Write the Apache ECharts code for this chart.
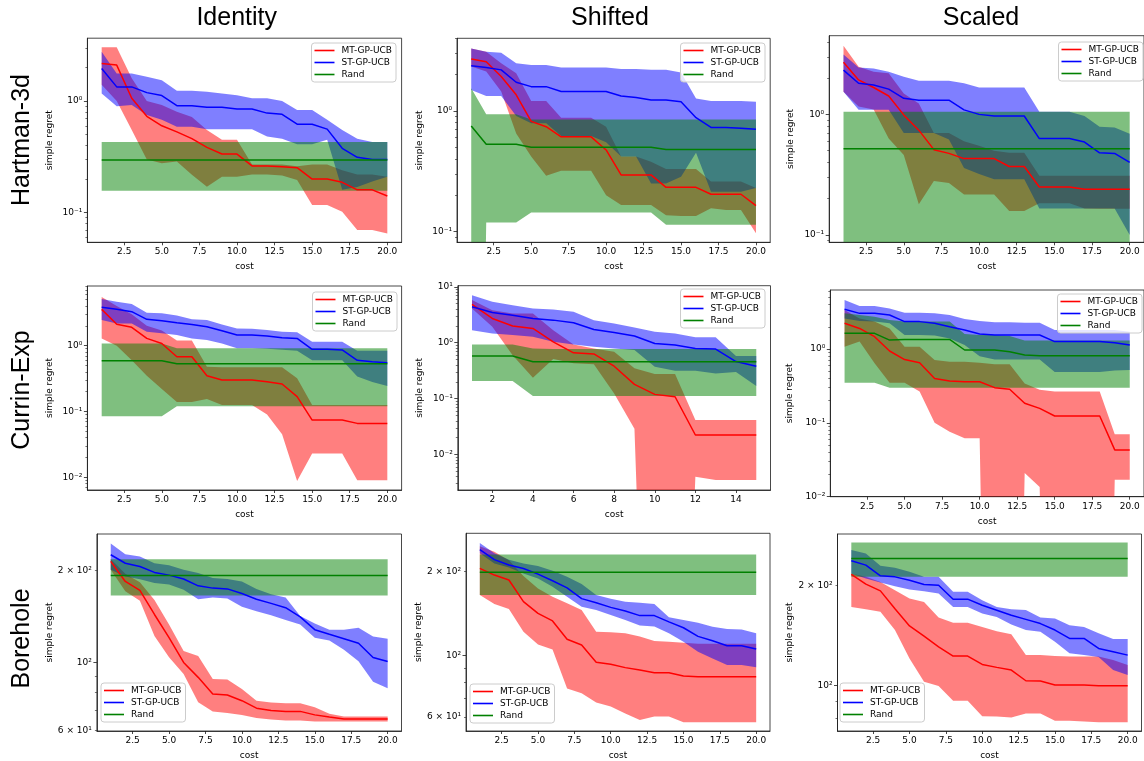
<!DOCTYPE html>
<html><head><meta charset="utf-8">
<script src="https://cdn.jsdelivr.net/npm/echarts@6/dist/echarts.min.js"></script>
<style>html,body{margin:0;padding:0;background:#fff}#c{width:1144px;height:761px}</style>
</head><body><div id="c"></div>
<script>
// ---------- text ----------
const colTitles = ['Identity', 'Shifted', 'Scaled'];
const rowTitles = ['Hartman-3d', 'Currin-Exp', 'Borehole'];
const methods = ['MT-GP-UCB', 'ST-GP-UCB', 'Rand'];

// ---------- x values / ticks ----------
const cost20 = [1,2,3,4,5,6,7,8,9,10,11,12,13,14,15,16,17,18,19,20];
const cost15 = [1,2,3,4,5,6,7,8,9,10,11,12,13,14,15];
const costTicks20 = [2.5,5,7.5,10,12.5,15,17.5,20];
const costTicks15 = [2,4,6,8,10,12,14];

// ---------- y tick values ----------
const hartMajor = [0.1, 1];
const hartMinor = [0.06,0.07,0.08,0.09,0.2,0.3,0.4,0.5,0.6,0.7,0.8,0.9,2,3,4];
const currMajor = [0.01, 0.1, 1, 10];
const currMinor = [0.002,0.003,0.004,0.005,0.006,0.007,0.008,0.009,0.02,0.03,0.04,0.05,0.06,0.07,0.08,0.09,0.2,0.3,0.4,0.5,0.6,0.7,0.8,0.9,2,3,4,5,6,7,8,9];
const boreLabels = [60, 100, 200];
const boreMajor = [100];
const boreMinor = [60, 70, 80, 90, 200, 300];

// ---------- Hartman-3d / Identity ----------
const h1MtMean = [2.17,2.10,1.06,0.73,0.60,0.53,0.46,0.385,0.335,0.335,0.262,0.262,0.258,0.253,0.200,0.200,0.187,0.160,0.160,0.141];
const h1MtLow  = [1.40,1.00,0.55,0.30,0.277,0.287,0.218,0.171,0.21,0.21,0.22,0.22,0.215,0.196,0.117,0.117,0.102,0.070,0.070,0.065];
const h1MtHigh = [3.03,3.03,1.60,1.00,0.92,0.80,0.72,0.55,0.45,0.45,0.27,0.27,0.27,0.26,0.27,0.27,0.24,0.22,0.22,0.21];
const h1StMean = [1.96,1.34,1.34,1.19,1.12,0.91,0.91,0.88,0.88,0.85,0.85,0.78,0.76,0.62,0.62,0.56,0.377,0.313,0.30,0.30];
const h1StLow  = [1.17,0.90,0.92,0.75,0.68,0.59,0.59,0.56,0.56,0.56,0.56,0.48,0.46,0.41,0.41,0.45,0.16,0.17,0.19,0.21];
const h1StHigh = [2.77,1.77,1.77,1.65,1.54,1.24,1.24,1.21,1.17,1.13,1.06,1.06,1.00,0.83,0.83,0.68,0.55,0.46,0.43,0.43];
const h1RdMean = [0.296,0.296,0.296,0.296,0.296,0.296,0.296,0.296,0.296,0.296,0.296,0.296,0.296,0.296,0.296,0.296,0.296,0.296,0.296,0.296];
const h1RdLow  = [0.157,0.157,0.157,0.157,0.157,0.157,0.157,0.157,0.157,0.157,0.157,0.157,0.157,0.157,0.157,0.157,0.157,0.157,0.157,0.157];
const h1RdHigh = [0.43,0.43,0.43,0.43,0.43,0.43,0.43,0.43,0.43,0.43,0.43,0.43,0.43,0.43,0.43,0.43,0.43,0.43,0.43,0.43];

// ---------- Hartman-3d / Shifted ----------
const h2MtMean = [2.70,2.56,1.93,1.36,0.82,0.74,0.61,0.61,0.61,0.475,0.295,0.295,0.295,0.233,0.233,0.233,0.204,0.204,0.204,0.164];
const h2MtLow  = [2.33,2.12,1.45,0.65,0.42,0.29,0.32,0.32,0.32,0.20,0.166,0.166,0.166,0.137,0.135,0.135,0.156,0.151,0.151,0.097];
const h2MtHigh = [3.30,3.10,2.48,2.05,1.21,1.21,0.88,0.88,0.88,0.74,0.42,0.42,0.38,0.33,0.33,0.33,0.26,0.26,0.26,0.23];
const h2StMean = [2.37,2.29,2.19,1.73,1.59,1.59,1.45,1.45,1.45,1.45,1.33,1.29,1.23,1.23,1.19,0.88,0.73,0.73,0.72,0.705];
const h2StLow  = [1.49,1.33,1.33,0.91,0.79,0.79,0.62,0.62,0.62,0.55,0.42,0.42,0.25,0.25,0.285,0.45,0.214,0.214,0.214,0.23];
const h2StHigh = [3.30,3.10,3.04,2.48,2.40,2.40,2.29,2.29,2.29,2.29,2.23,2.23,2.19,2.19,2.08,1.27,1.21,1.21,1.21,1.19];
const h2RdMean = [0.75,0.53,0.53,0.53,0.50,0.50,0.50,0.50,0.50,0.50,0.50,0.50,0.50,0.48,0.48,0.48,0.48,0.48,0.48,0.48];
const h2RdLow  = [1e-9,0.119,0.119,0.119,0.144,0.144,0.144,0.144,0.144,0.144,0.144,0.144,0.144,0.114,0.114,0.114,0.114,0.114,0.114,0.114];
const h2RdHigh = [1.54,0.94,0.94,0.94,0.85,0.85,0.85,0.85,0.85,0.85,0.85,0.85,0.85,0.85,0.85,0.85,0.85,0.85,0.85,0.85];

// ---------- Hartman-3d / Scaled ----------
const h3MtMean = [2.70,1.93,1.67,1.42,0.99,0.74,0.51,0.475,0.43,0.43,0.43,0.37,0.37,0.25,0.25,0.25,0.239,0.239,0.239,0.239];
const h3MtLow  = [1.54,1.16,1.10,0.63,0.46,0.18,0.28,0.27,0.217,0.217,0.217,0.158,0.158,0.183,0.183,0.183,0.166,0.165,0.165,0.165];
const h3MtHigh = [3.70,2.48,2.26,2.19,1.49,1.23,0.70,0.70,0.60,0.55,0.50,0.48,0.48,0.31,0.31,0.31,0.31,0.31,0.31,0.31];
const h3StMean = [2.33,1.81,1.75,1.62,1.36,1.31,1.31,1.31,1.09,1.00,0.97,0.97,0.97,0.63,0.63,0.63,0.59,0.48,0.475,0.40];
const h3StLow  = [1.54,1.09,1.09,1.09,0.70,0.70,0.70,0.62,0.36,0.32,0.29,0.29,0.29,0.166,0.166,0.166,0.166,0.166,0.166,0.10];
const h3StHigh = [3.14,2.45,2.40,2.26,2.05,1.90,1.90,1.90,1.81,1.67,1.67,1.67,1.67,1.05,1.05,1.05,0.97,0.79,0.78,0.69];
const h3RdMean = [0.52,0.52,0.52,0.52,0.52,0.52,0.52,0.52,0.52,0.52,0.52,0.52,0.52,0.52,0.52,0.52,0.52,0.52,0.52,0.52];
const h3RdLow  = [0.01,0.01,0.01,0.01,0.01,0.01,0.01,0.01,0.01,0.01,0.01,0.01,0.01,0.01,0.01,0.01,0.01,0.01,0.01,0.01];
const h3RdHigh = [1.05,1.05,1.05,1.05,1.05,1.05,1.05,1.05,1.05,1.05,1.05,1.05,1.05,1.05,1.05,1.05,1.05,1.05,1.05,1.05];

// ---------- Currin-Exp / Identity ----------
const c1MtMean = [3.56,2.11,1.90,1.29,1.08,0.68,0.68,0.35,0.30,0.30,0.30,0.284,0.262,0.168,0.074,0.074,0.074,0.066,0.066,0.066];
const c1MtLow  = [1.29,1.00,0.60,0.35,0.22,0.14,0.14,0.155,0.125,0.125,0.125,0.09,0.045,0.0088,0.023,0.023,0.023,0.009,0.009,0.009];
const c1MtHigh = [5.50,4.00,3.00,2.00,1.70,1.20,1.20,0.48,0.47,0.47,0.47,0.47,0.47,0.32,0.125,0.125,0.125,0.125,0.125,0.125];
const c1StMean = [3.82,3.56,3.28,2.51,2.40,2.23,2.10,1.94,1.69,1.45,1.45,1.40,1.32,1.29,0.88,0.88,0.86,0.60,0.57,0.55];
const c1StLow  = [2.45,2.18,2.18,1.63,1.54,1.45,1.29,1.22,1.08,0.91,0.91,0.90,0.87,0.84,0.60,0.60,0.60,0.34,0.28,0.245];
const c1StHigh = [5.10,4.66,4.30,3.17,3.10,2.86,2.51,2.45,2.10,1.83,1.80,1.73,1.63,1.60,1.15,1.15,1.15,0.84,0.84,0.84];
const c1RdMean = [0.59,0.59,0.59,0.59,0.59,0.53,0.53,0.53,0.53,0.53,0.53,0.53,0.53,0.53,0.53,0.53,0.53,0.53,0.53,0.53];
const c1RdLow  = [0.085,0.085,0.085,0.085,0.085,0.12,0.12,0.12,0.12,0.12,0.12,0.12,0.12,0.12,0.12,0.12,0.12,0.12,0.12,0.12];
const c1RdHigh = [1.08,1.08,1.08,1.08,1.08,0.91,0.91,0.91,0.91,0.91,0.91,0.91,0.91,0.91,0.91,0.91,0.91,0.91,0.91,0.91];

// ---------- Currin-Exp / Shifted ----------
const c2MtMean = [4.85,2.72,1.99,1.80,1.04,0.66,0.63,0.38,0.18,0.119,0.108,0.0223,0.0223,0.0223,0.0223];
const c2MtLow  = [4.10,1.93,0.60,0.236,0.51,0.43,0.41,0.124,0.029,1e-12,1e-12,0.004,0.0035,0.0035,0.0035];
const c2MtHigh = [5.80,3.80,3.35,3.35,1.68,0.93,0.79,0.69,0.35,0.275,0.275,0.0414,0.0414,0.0414,0.0414];
const c2StMean = [4.40,3.49,3.12,2.72,2.54,2.28,1.73,1.53,1.32,0.97,0.91,0.79,0.77,0.46,0.38];
const c2StLow  = [1.68,1.47,1.37,1.28,1.04,0.93,0.85,0.79,0.74,0.37,0.315,0.315,0.28,0.30,0.168];
const c2StHigh = [7.10,5.40,4.70,4.10,3.95,3.58,2.54,2.20,1.88,1.57,1.47,1.25,1.25,0.58,0.58];
const c2RdMean = [0.58,0.58,0.58,0.457,0.457,0.457,0.457,0.457,0.457,0.457,0.457,0.457,0.457,0.457,0.457];
const c2RdLow  = [0.206,0.206,0.206,0.111,0.111,0.111,0.111,0.111,0.111,0.111,0.111,0.111,0.111,0.111,0.111];
const c2RdHigh = [0.93,0.93,0.93,0.79,0.77,0.77,0.77,0.77,0.77,0.77,0.77,0.77,0.77,0.77,0.77];

// ---------- Currin-Exp / Scaled ----------
const c3MtMean = [2.23,1.90,1.47,0.94,0.72,0.65,0.40,0.37,0.36,0.36,0.30,0.285,0.184,0.157,0.124,0.124,0.124,0.124,0.043,0.043];
const c3MtLow  = [1.07,1.26,0.64,0.35,0.35,0.265,0.10,0.076,0.062,0.062,1e-12,1e-12,0.021,0.0135,1e-12,1e-12,1e-12,1e-12,0.017,0.017];
const c3MtHigh = [3.38,2.60,2.35,1.90,1.07,1.07,0.71,0.67,0.67,0.65,0.62,0.62,0.34,0.28,0.265,0.265,0.265,0.265,0.07,0.07];
const c3StMean = [3.45,3.04,3.04,2.89,2.35,2.35,2.23,2.00,1.81,1.60,1.55,1.55,1.55,1.55,1.26,1.26,1.26,1.26,1.22,1.13];
const c3StLow  = [2.60,2.39,2.35,2.23,1.55,1.55,1.52,1.39,1.13,0.80,0.72,0.72,0.72,0.72,0.49,0.49,0.49,0.49,0.51,0.52];
const c3StHigh = [4.60,3.82,3.82,3.55,3.10,3.10,3.04,2.89,2.55,2.39,2.30,2.30,2.27,2.27,1.81,1.81,1.81,1.81,1.81,1.72];
const c3RdMean = [1.63,1.63,1.63,1.32,1.35,1.35,1.35,1.35,0.97,0.97,0.97,0.92,0.83,0.81,0.81,0.81,0.81,0.81,0.81,0.81];
const c3RdLow  = [0.35,0.35,0.35,0.30,0.30,0.30,0.30,0.30,0.30,0.30,0.30,0.30,0.30,0.30,0.30,0.30,0.30,0.30,0.30,0.30];
const c3RdHigh = [3.04,2.89,2.74,2.47,2.35,2.35,2.35,2.35,1.60,1.55,1.55,1.50,1.30,1.30,1.30,1.30,1.30,1.30,1.30,1.30];

// ---------- Borehole / Identity ----------
const b1MtMean = [214,184,172,143.5,120.5,100,89.4,78.9,78.3,75,70.9,69.7,69.2,69.2,67.4,66.3,65.4,65.4,65.4,65.4];
const b1MtLow  = [201,171,159,122,104,91.6,74.1,69.2,68.3,67.4,65.8,65.1,64.6,64.6,64.1,64.1,64.1,64.1,64.1,64.1];
const b1MtHigh = [218,195,183,160,133,109,105,88.3,88,81.9,75,74,73.5,73.5,71.4,68,66.6,66.6,66.6,66.6];
const b1StMean = [225,211,206,197,193,187.5,178,175,174,168,161,156,151,141,128,123.6,119.6,115.6,103.8,100.7];
const b1StLow  = [201,191,187,182,180,173,161,163,162,152,147,142.6,137.7,133,120.5,118,110,101,86.5,82.4];
const b1StHigh = [245,226,222,211,208,201,196,189,187.5,184,174,167,163,142,134,128,128,129.8,121.5,119.6];
const b1RdMean = [192.6,192.6,192.6,192.6,192.6,192.6,192.6,192.6,192.6,192.6,192.6,192.6,192.6,192.6,192.6,192.6,192.6,192.6,192.6,192.6];
const b1RdLow  = [165.5,165.5,165.5,165.5,165.5,165.5,165.5,165.5,165.5,165.5,165.5,165.5,165.5,165.5,165.5,165.5,165.5,165.5,165.5,165.5];
const b1RdHigh = [217.6,217.6,217.6,217.6,217.6,217.6,217.6,217.6,217.6,217.6,217.6,217.6,217.6,217.6,217.6,217.6,217.6,217.6,217.6,217.6];

// ---------- Borehole / Shifted ----------
const b2MtMean = [205.5,194.5,186.7,156,141.6,133,114.2,109,94.4,92.8,90.3,88.5,86.6,86.6,84.3,83.8,83.8,83.8,83.8,83.8];
const b2MtLow  = [165,153,146.8,121.7,109.5,105,76,73,67.6,65.4,61.8,58.5,60.2,60.2,57.4,57.4,57.4,57.4,57.4,57.4];
const b2MtHigh = [247,236,220,193,174,162.6,154,145.6,121.7,121,120,117,112.6,112,111,110,110,110,110,110];
const b2StMean = [240,221,211.5,205.5,196,185.6,175,160,154.6,148.8,144.3,139,139,132,125.7,117,112.9,108.3,108.3,105.4];
const b2StLow  = [233,214,207,197,189,176.6,162.6,149.6,145.6,139.7,134,128,127,120,112,103,97.5,92.3,92.3,90.5];
const b2StHigh = [254,233,221,214,209.5,201.7,192,180.6,165,160,156,154.6,153,137,134,131,126.8,124.4,124,120];
const b2RdMean = [199,199,199,199,199,199,199,199,199,199,199,199,199,199,199,199,199,199,199,199];
const b2RdLow  = [165,165,165,165,165,165,165,165,165,165,165,165,165,165,165,165,165,165,165,165];
const b2RdHigh = [230.6,230.6,230.6,230.6,230.6,230.6,230.6,230.6,230.6,230.6,230.6,230.6,230.6,230.6,230.6,230.6,230.6,230.6,230.6,230.6];

// ---------- Borehole / Scaled ----------
const b3MtMean = [215.5,201.5,192.3,170,151,140.8,130.8,122.7,122.7,115.8,113.5,111.4,103.5,103.3,100.5,100.5,100.5,100,100,100];
const b3MtLow  = [172,169.4,166.4,146.8,120.7,102.8,99.8,90.2,90.2,81.1,80.9,80.4,82.6,82.6,78.6,78.6,78.2,77.7,77.7,77.7];
const b3MtHigh = [216.7,211.8,204.6,193,182.4,178,160,154.3,154.3,150,145.7,142.5,123.5,123.5,122.7,122.3,122.3,122.3,119.4,115.3];
const b3StMean = [236.7,229.6,213.3,211.8,207,201,200,181.6,181.6,174.2,168.3,162.6,158,153.5,146.8,138.6,138.6,129.3,126.4,123.5];
const b3StLow  = [216.7,209.6,203.7,198.6,194,191.8,188.8,172,172,164.4,160.7,152.4,146.8,145,135.4,125,123.5,122,111.4,107.6];
const b3StHigh = [254.7,249,228.6,225.4,219.3,211.8,211.8,191,191,180.3,172,169.4,168.5,160,159,151.7,150,143.5,138,138];
const b3RdMean = [240.4,240.4,240.4,240.4,240.4,240.4,240.4,240.4,240.4,240.4,240.4,240.4,240.4,240.4,240.4,240.4,240.4,240.4,240.4,240.4];
const b3RdLow  = [211.8,211.8,211.8,211.8,211.8,211.8,211.8,211.8,211.8,211.8,211.8,211.8,211.8,211.8,211.8,211.8,211.8,211.8,211.8,211.8];
const b3RdHigh = [268.4,268.4,268.4,268.4,268.4,268.4,268.4,268.4,268.4,268.4,268.4,268.4,268.4,268.4,268.4,268.4,268.4,268.4,268.4,268.4];

// ---------- layout & styling ----------
const COLORS = ['#ff0000', '#0000ff', '#008000'];
const FILLS = ['rgba(255,0,0,0.5)', 'rgba(0,0,255,0.5)', 'rgba(0,128,0,0.5)'];
const FONT = 'DejaVu Sans';
const SUP = {'0':'\u2070','1':'\u00b9','2':'\u00b2','3':'\u00b3','-':'\u207b'};
function logLabel(v) {
  const e = Math.floor(Math.log10(v) + 1e-9);
  const m = Math.round(v / Math.pow(10, e));
  const s = String(e).split('').map(c => SUP[c]).join('');
  return (m === 1 ? '' : m + ' \u00d7 ') + '10' + s;
}
const fmt1 = v => Number(v).toFixed(1);
const fmt0 = v => String(Math.round(v));

const panels = [
  {xs: cost20, d: [[h1MtLow,h1MtMean,h1MtHigh],[h1StLow,h1StMean,h1StHigh],[h1RdLow,h1RdMean,h1RdHigh]],
   g: [87.4, 38.2, 314.2, 204.1], x: [0.05, 20.95], y: [0.0542, 3.66], lab: hartMajor, maj: hartMajor, min: hartMinor,
   yGap: 33, leg: {right: 748, top: 43}},
  {xs: cost20, d: [[h2MtLow,h2MtMean,h2MtHigh],[h2StLow,h2StMean,h2StHigh],[h2RdLow,h2RdMean,h2RdHigh]],
   g: [457.0, 38.3, 313.2, 204.0], x: [0.05, 20.95], y: [0.0816, 4.0], lab: hartMajor, maj: hartMajor, min: hartMinor,
   yGap: 33, leg: {right: 379, top: 43}},
  {xs: cost20, d: [[h3MtLow,h3MtMean,h3MtHigh],[h3StLow,h3StMean,h3StHigh],[h3RdLow,h3RdMean,h3RdHigh]],
   g: [829.2, 35.7, 319.3, 206.6], x: [0.05, 20.95], y: [0.087, 4.49], lab: hartMajor, maj: hartMajor, min: hartMinor,
   yGap: 34, leg: {right: 1, top: 42}},
  {xs: cost20, d: [[c1MtLow,c1MtMean,c1MtHigh],[c1StLow,c1StMean,c1StHigh],[c1RdLow,c1RdMean,c1RdHigh]],
   g: [87.4, 286.0, 314.2, 204.0], x: [0.05, 20.95], y: [0.00642, 8.06], lab: currMajor, maj: currMajor, min: currMinor,
   yGap: 33, leg: {right: 747, top: 292}},
  {xs: cost15, d: [[c2MtLow,c2MtMean,c2MtHigh],[c2StLow,c2StMean,c2StHigh],[c2RdLow,c2RdMean,c2RdHigh]],
   g: [457.8, 285.7, 312.7, 204.3], x: [0.3, 15.7], y: [0.00231, 10.5], lab: currMajor, maj: currMajor, min: currMinor,
   yGap: 34, leg: {right: 379, top: 289}, int: true},
  {xs: cost20, d: [[c3MtLow,c3MtMean,c3MtHigh],[c3StLow,c3StMean,c3StHigh],[c3RdLow,c3RdMean,c3RdHigh]],
   g: [830.3, 290.0, 316.8, 206.7], x: [0.05, 20.95], y: [0.01, 6.3], lab: currMajor, maj: currMajor, min: currMinor,
   yGap: 36, leg: {right: 2, top: 294}},
  {xs: cost20, d: [[b1MtLow,b1MtMean,b1MtHigh],[b1StLow,b1StMean,b1StHigh],[b1RdLow,b1RdMean,b1RdHigh]],
   g: [96.9, 534.0, 304.6, 198.3], x: [0.05, 20.95], y: [59.7, 263], lab: boreLabels, maj: boreMajor, min: boreMinor,
   yGap: 43, leg: {left: 101, top: 683}},
  {xs: cost20, d: [[b2MtLow,b2MtMean,b2MtHigh],[b2StLow,b2StMean,b2StHigh],[b2RdLow,b2RdMean,b2RdHigh]],
   g: [466.0, 533.3, 304.0, 197.7], x: [0.05, 20.95], y: [53.4, 275], lab: boreLabels, maj: boreMajor, min: boreMinor,
   yGap: 42, leg: {left: 470, top: 684}},
  {xs: cost20, d: [[b3MtLow,b3MtMean,b3MtHigh],[b3StLow,b3StMean,b3StHigh],[b3RdLow,b3RdMean,b3RdHigh]],
   g: [837.5, 534.0, 304.0, 197.0], x: [0.05, 20.95], y: [73.2, 284.6], lab: boreLabels, maj: boreMajor, min: boreMinor,
   yGap: 43, leg: {left: 840, top: 683}}
];

const pts = (xs, ys) => xs.map((x, i) => [x, ys[i]]);

// band polygon: drawn once (on the first item) from all [x, low, high] items, through the axes' scales
function bandRenderer(fill) {
  return function (params, api) {
    if (params.dataIndexInside !== 0) return null;
    const n = params.dataInsideLength;
    const top = [], bot = [];
    for (let j = 0; j < n; j++) {
      const x = api.value(0, j);
      top.push(api.coord([x, api.value(2, j)]));
      bot.push(api.coord([x, api.value(1, j)]));
    }
    const cs = params.coordSys;
    return {
      type: 'polygon',
      shape: {points: top.concat(bot.reverse())},
      style: {fill: fill, stroke: null},
      clipPath: {type: 'rect', shape: {x: cs.x, y: cs.y, width: cs.width, height: cs.height}}
    };
  };
}

const option = {
  animation: false, backgroundColor: '#fff',
  textStyle: {fontFamily: FONT},
  grid: [], xAxis: [], yAxis: [], series: [], legend: [], graphic: []
};
const AX = '#1a1a1a';

panels.forEach((p, i) => {
  option.grid.push({left: p.g[0], top: p.g[1], width: p.g[2], height: p.g[3], show: true,
    borderColor: AX, borderWidth: 0.8, backgroundColor: 'transparent'});
  const ticks = p.int ? costTicks15 : costTicks20;
  option.xAxis.push({gridIndex: i, type: 'value', min: p.x[0], max: p.x[1],
    name: 'cost', nameLocation: 'middle', nameGap: 20,
    nameTextStyle: {fontSize: 9, color: '#000', fontFamily: FONT},
    axisLine: {lineStyle: {color: AX, width: 0.8}},
    axisTick: {customValues: ticks, length: 3, lineStyle: {color: AX, width: 0.8}},
    axisLabel: {customValues: ticks, formatter: p.int ? fmt0 : fmt1, fontSize: 9, color: '#000', margin: 5, fontFamily: FONT},
    splitLine: {show: false}});
  option.yAxis.push({gridIndex: i, type: 'log', position: 'left', min: p.y[0], max: p.y[1],
    name: 'simple regret', nameLocation: 'middle', nameGap: p.yGap, nameRotate: 90,
    nameTextStyle: {fontSize: 9, color: '#000', fontFamily: FONT},
    axisLine: {lineStyle: {color: AX, width: 0.8}},
    axisTick: {customValues: p.maj, length: 3.5, lineStyle: {color: AX, width: 0.8}},
    axisLabel: {customValues: p.lab, formatter: logLabel, fontSize: 9, color: '#000', margin: 5, fontFamily: FONT},
    splitLine: {show: false}, minorTick: {show: false}});
  option.yAxis.push({gridIndex: i, type: 'log', position: 'left', offset: 0, min: p.y[0], max: p.y[1],
    axisLine: {show: false},
    axisTick: {customValues: p.min, length: 2, lineStyle: {color: AX, width: 0.6}},
    axisLabel: {show: false}, splitLine: {show: false}});

  // shaded bands (MT, ST, Rand in that order)
  p.d.forEach((m, k) => {
    option.series.push({type: 'custom', name: 'band' + i + '_' + k, xAxisIndex: i, yAxisIndex: 2 * i,
      data: p.xs.map((x, j) => [x, m[0][j], m[2][j]]),
      encode: {x: 0, y: [1, 2]}, clip: true, silent: true, z: 2,
      renderItem: bandRenderer(FILLS[k])});
  });
  // mean lines
  p.d.forEach((m, k) => {
    option.series.push({type: 'line', name: methods[k], xAxisIndex: i, yAxisIndex: 2 * i,
      data: pts(p.xs, m[1]), symbol: 'none', silent: true, z: 3,
      itemStyle: {color: COLORS[k]}, lineStyle: {color: COLORS[k], width: 1.5}});
  });
  option.legend.push(Object.assign({
    data: methods, orient: 'vertical', selectedMode: false,
    icon: 'rect', itemWidth: 20, itemHeight: 1.6, itemGap: 3,
    padding: [3, 4, 3, 3],
    backgroundColor: 'rgba(255,255,255,0.8)', borderColor: '#cccccc', borderWidth: 1, borderRadius: 3,
    textStyle: {fontSize: 9, color: '#000', fontFamily: FONT, padding: [0, 0, 0, 2]}
  }, p.leg));
});

// column titles and row labels
const colX = [236.7, 610, 981];
colTitles.forEach((t, i) => option.graphic.push({type: 'text', x: colX[i], y: 18,
  style: {text: t, font: '25px "Liberation Sans"', fill: '#000', align: 'center', verticalAlign: 'middle'}}));
const rowY = [140, 390, 638.5];
rowTitles.forEach((t, i) => option.graphic.push({type: 'text', x: 22, y: rowY[i], rotation: Math.PI / 2,
  style: {text: t, font: '25px "Liberation Sans"', fill: '#000', align: 'center', verticalAlign: 'middle'}}));

const chart = echarts.init(document.getElementById('c'), null, {renderer: 'canvas'});
chart.setOption(option);
</script>
</body></html>
